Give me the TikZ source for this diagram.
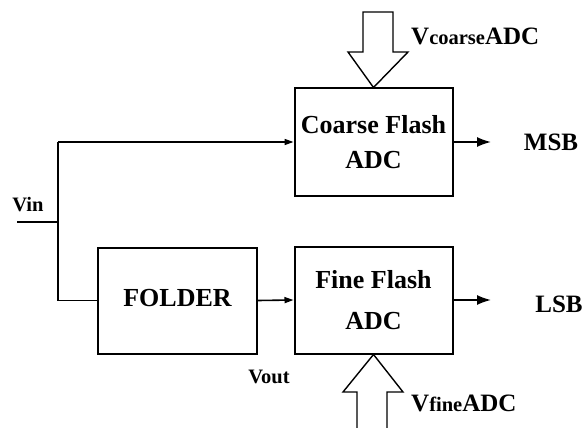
\documentclass[tikz,border=0pt]{standalone}
\usepackage{fontspec}
\setmainfont{Liberation Serif}
\usetikzlibrary{arrows.meta}
\begin{document}
\begin{tikzpicture}[x=1pt,y=-1pt,
  blockbox/.style={draw,line width=2pt,minimum width=158pt,minimum height=107pt,inner sep=0pt,
    font=\fontsize{26}{35}\selectfont\bfseries,align=center},
  wire/.style={line width=1.6pt},
  smalltip/.style={wire,-{Triangle[length=9pt,width=6pt]}},
  bigtip/.style={wire,-{Latex[length=14pt,width=10pt]}},
  biglabel/.style={font=\fontsize{25}{30}\selectfont\bfseries,inner sep=0pt},
  smalllabel/.style={font=\fontsize{20.5}{22}\selectfont\bfseries,inner sep=0pt},
  hollow/.style={draw,line width=1.4pt,fill=white,line join=miter}]
\useasboundingbox (0,0) rectangle (587,428);
\fill[white] (0,0) rectangle (587,428);
% blocks
\node[blockbox] (coarse) at (373.5,142) {Coarse Flash\\ADC};
\node[blockbox,font=\fontsize{26}{41}\selectfont\bfseries] (fine) at (373.5,300) {Fine Flash\\ADC};
\node[blockbox,minimum width=159pt,minimum height=106pt] (folder) at (177.5,300.5) {\raisebox{6pt}{FOLDER}};
% input wiring
\coordinate (vin) at (17,222);
\coordinate (junc) at (58,222);
\coordinate (jtop) at (58,142);
\coordinate (jbot) at (58,300.5);
\draw[wire] (vin) -- (junc);
\draw[wire] (jtop) -- (jbot);
\draw[smalltip] (jtop) -- (coarse.west);
\draw[wire] (jbot) -- (folder.west);
\draw[smalltip] (folder.east) -- (fine.west);
% outputs
\coordinate (msbend) at (491,142);
\coordinate (lsbend) at (491,300);
\draw[bigtip] (coarse.east) -- (msbend);
\draw[bigtip] (fine.east) -- (lsbend);
% labels
\node[biglabel] (msb) at (551,142) {MSB};
\node[biglabel] (lsb) at (559,304) {LSB};
\node[smalllabel] (vinl) at (28,205) {Vin};
\node[smalllabel] (voutl) at (269,377) {Vout};
\node[biglabel,anchor=west] (vc) at (411,36) {V{\fontsize{20.5}{22}\selectfont coarse}ADC};
\node[biglabel,anchor=west] (vf) at (411,403) {V{\fontsize{20.5}{22}\selectfont fine}ADC};
% hollow reference arrows
\draw[hollow] (363,12) -- (393,12) -- (393,52) -- (408,52) -- (coarse.north) -- (348,52) -- (363,52) -- cycle;
\draw[hollow] (357,430) -- (357,392) -- (343,392) -- (fine.south) -- (403,392) -- (387,392) -- (387,430);
\end{tikzpicture}
\end{document}
